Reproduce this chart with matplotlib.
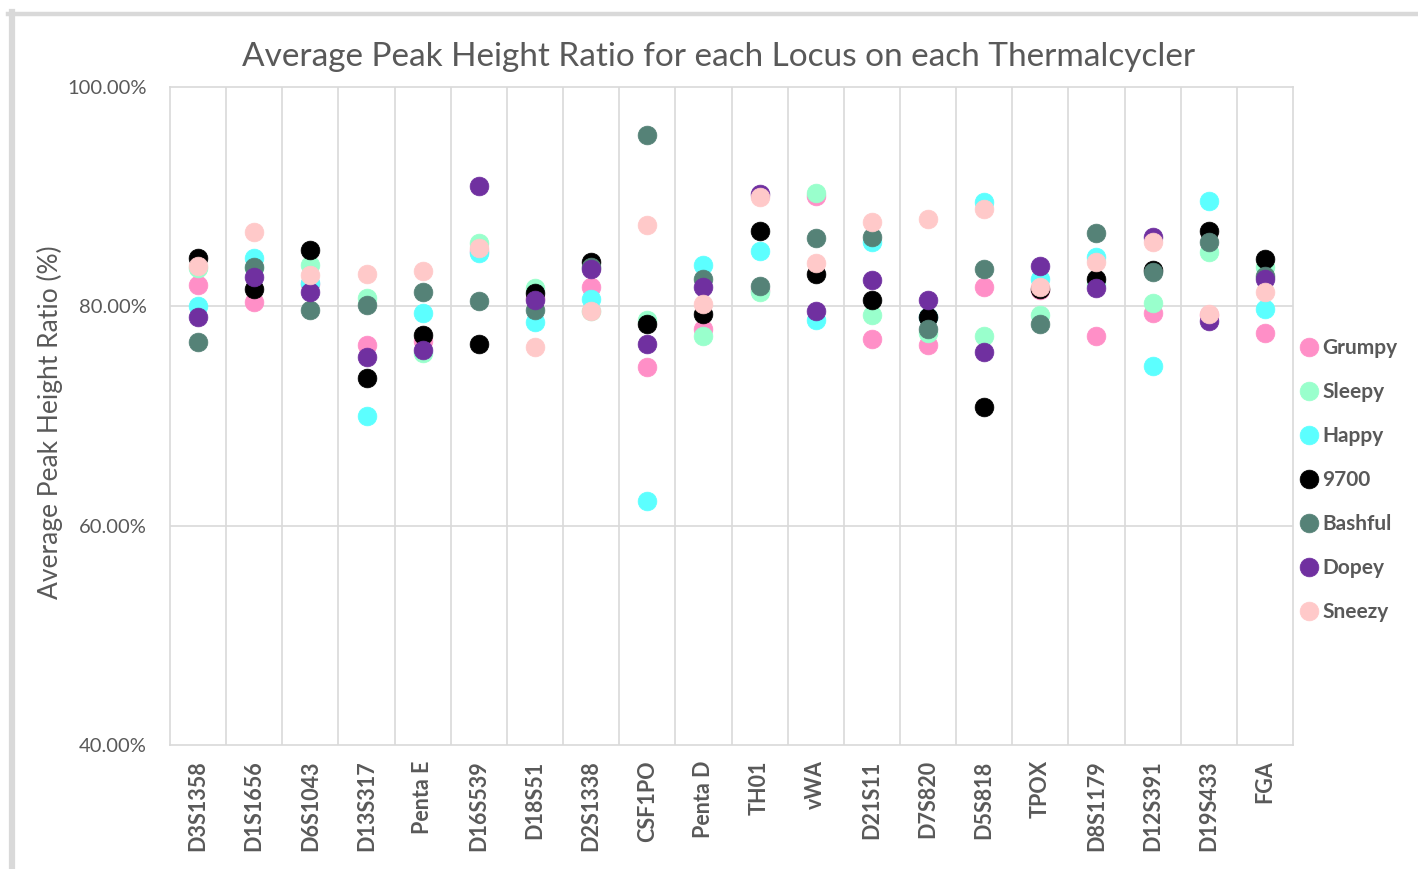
import matplotlib
matplotlib.use("Agg")
import matplotlib.pyplot as plt
from matplotlib.lines import Line2D
from matplotlib.ticker import FuncFormatter

plt.rcParams['font.family'] = ['Lato', 'DejaVu Sans']

loci = ["D3S1358", "D1S1656", "D6S1043", "D13S317", "Penta E", "D16S539", "D18S51",
        "D2S1338", "CSF1PO", "Penta D", "TH01", "vWA", "D21S11", "D7S820", "D5S818",
        "TPOX", "D8S1179", "D12S391", "D19S433", "FGA"]

grumpy = [81.9, 80.35, 82.0, 76.43, 76.8, 85.0, 80.8, 81.72, 74.43, 77.92,
          81.5, 90.1, 77.01, 76.43, 81.75, 81.5, 77.31, 79.38, 79.2, 77.55]
sleepy = [83.48, 83.5, 83.78, 80.75, 75.7, 85.82, 81.66, 79.6, 78.77, 77.25,
          81.27, 90.31, 79.17, 77.55, 77.34, 79.22, 82.0, 80.29, 84.91, 83.6]
happy = [80.04, 84.39, 82.11, 69.96, 79.38, 84.84, 78.53, 80.68, 62.28, 83.78,
         85.06, 78.77, 85.91, 79.0, 89.55, 82.48, 84.54, 74.58, 89.61, 79.8]
t9700 = [84.39, 81.56, 85.15, 73.51, 77.40, 76.58, 81.2, 84.0, 78.41, 79.32,
         86.88, 82.96, 80.59, 79.07, 70.79, 81.6, 82.48, 83.27, 86.91, 84.3]
bashful = [76.77, 83.57, 79.68, 80.14, 81.35, 80.50, 79.68, 83.6, 95.66, 82.48,
           81.81, 86.21, 86.36, 77.95, 83.42, 78.41, 86.73, 83.14, 85.91, 82.8]
dopey = [79.07, 82.66, 81.35, 75.37, 76.04, 91.01, 80.59, 83.39, 76.58, 81.75,
         90.25, 79.53, 82.41, 80.59, 75.83, 83.72, 81.66, 86.3, 78.62, 82.51]
sneezy = [83.72, 86.82, 82.87, 82.93, 83.23, 85.30, 76.25, 79.62, 87.40, 80.23,
          90.0, 83.93, 87.73, 87.97, 88.88, 81.72, 84.08, 85.91, 79.29, 81.35]

series_names = ["Grumpy", "Sleepy", "Happy", "9700", "Bashful", "Dopey", "Sneezy"]
series_values = [grumpy, sleepy, happy, t9700, bashful, dopey, sneezy]
series_colors = ["#FF8FC7", "#99FFCC", "#5CFFFF", "#000000", "#558277", "#7030A0", "#FFC9C9"]

W, H = 1418, 869
fig = plt.figure(figsize=(W / 100, H / 100), dpi=100)
ax = fig.add_axes([170 / W, 1 - 745 / H, (1293 - 170) / W, (745 - 87) / H])

x = list(range(len(loci)))
for name, vals, col in zip(series_names, series_values, series_colors):
    ax.plot(x, vals, linestyle='none', marker='o', markersize=13.5,
            markerfacecolor=col, markeredgecolor=col, markeredgewidth=0.5,
            label=name, zorder=3)

grid_col = "#D9D9D9"
ax.set_xlim(-0.5, len(loci) - 0.5)
ax.set_ylim(40, 100)
ax.set_yticks([40, 60, 80, 100])
ax.yaxis.set_major_formatter(FuncFormatter(lambda v, p: f"{v:.2f}%"))
ax.set_xticks(x)
ax.set_xticklabels(loci, rotation=90, fontsize=15.5, fontweight='bold', color="#595959")
ax.tick_params(axis='y', length=0, pad=17, labelsize=14.5, labelcolor="#595959")
ax.tick_params(axis='x', length=0, pad=11)
for sp in ax.spines.values():
    sp.set_color(grid_col)
    sp.set_linewidth(1.2)
for yv in [60, 80]:
    ax.axhline(yv, color=grid_col, linewidth=1.2, zorder=1)
for i in range(len(loci) - 1):
    ax.axvline(i + 0.5, color=grid_col, linewidth=1.2, zorder=1)

fig.text(50 / W, 1 - 422 / H, "Average Peak Height Ratio (%)", rotation=90,
         ha='center', va='center', fontsize=19, color="#595959")
fig.text(718.5 / W, 1 - 57 / H,
         "Average Peak Height Ratio for each Locus on each Thermalcycler",
         ha='center', va='center', fontsize=24, color="#595959")

leg = fig.legend(loc='center left', bbox_to_anchor=(1296 / W, 1 - 480 / H),
                 frameon=False, fontsize=15, handletextpad=0.05, labelspacing=1.15,
                 handlelength=1.2, borderaxespad=0, borderpad=0)
for t in leg.get_texts():
    t.set_color("#595959")
    t.set_fontweight('bold')

# outer chart frame
fig.add_artist(Line2D([8 / W, 1.0], [1 - 14 / H, 1 - 14 / H], transform=fig.transFigure,
                      color="#D9D9D9", linewidth=3.2))
fig.add_artist(Line2D([11.5 / W, 11.5 / W], [0, 1 - 12 / H], transform=fig.transFigure,
                      color="#D9D9D9", linewidth=4.5))

fig.savefig("out.png", dpi=100)
